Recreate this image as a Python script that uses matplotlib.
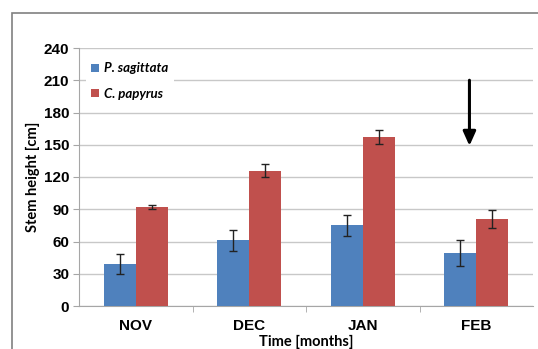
import matplotlib
matplotlib.use("Agg")
import matplotlib.pyplot as plt
from matplotlib.patches import Rectangle
import numpy as np

months = ["NOV", "DEC", "JAN", "FEB"]
sagittata = [39, 61, 75, 49]
sagittata_err = [9.5, 9.5, 10, 12]
papyrus = [92, 126, 157.5, 81]
papyrus_err = [2, 6, 6.5, 8.5]
series_names = ["P. sagittata", "C. papyrus"]
yticks = [0, 30, 60, 90, 120, 150, 180, 210, 240]

W, H = 538, 349
fig = plt.figure(figsize=(W / 100, H / 100), dpi=100)
fig.patch.set_facecolor("white")

# outer chart frame
fig.patches.append(Rectangle((12 / W, -0.05), 1.2, 1 - 13 / H + 0.05,
                             transform=fig.transFigure, fill=False,
                             edgecolor="#808080", linewidth=1.2))

ax = fig.add_axes([79 / W, 1 - 306 / H, (533 - 79) / W, (306 - 48) / H])
x = np.arange(len(months))
bw = 0.28
blue, red = "#4f81bd", "#c0504d"
err_kw = dict(ecolor="#222222", elinewidth=1.0, capsize=2.6, capthick=1.0)
b1 = ax.bar(x - bw / 2, sagittata, bw, color=blue, yerr=sagittata_err,
            error_kw=err_kw, zorder=3, label=series_names[0])
b2 = ax.bar(x + bw / 2, papyrus, bw, color=red, yerr=papyrus_err,
            error_kw=err_kw, zorder=3, label=series_names[1])

ax.set_xlim(-0.5, len(months) - 0.5)
ax.set_ylim(0, 240)
ax.set_yticks(yticks)
ax.yaxis.grid(True, color="#c8c8c8", linewidth=1.0, zorder=0)
ax.set_axisbelow(True)

for s in ["top", "right"]:
    ax.spines[s].set_visible(False)
ax.spines["left"].set_color("#a6a6a6")
ax.spines["bottom"].set_color("#a6a6a6")

ax.set_xticks(x)
ax.set_xticklabels(months, fontsize=11, fontweight="bold",
                   fontfamily="Liberation Sans")
ax.set_xticks(np.arange(0.5, len(months) - 0.5, 1), minor=True)
ax.tick_params(axis="x", which="major", length=0, pad=9)
ax.tick_params(axis="x", which="minor", length=4, color="#a6a6a6")
ax.tick_params(axis="y", length=4, color="#a6a6a6", pad=3)
for lab in ax.get_yticklabels():
    lab.set_fontsize(11)
    lab.set_fontweight("bold")
    lab.set_fontfamily("Liberation Sans")

ax.set_xlabel("Time [months]", fontsize=10.5, fontweight="bold",
              fontfamily="Lato", labelpad=2)
ax.set_ylabel("Stem height [cm]", fontsize=10.5, fontweight="bold",
              fontfamily="Lato", labelpad=3)

leg = ax.legend(loc="upper left", bbox_to_anchor=(0.0, 0.99),
                frameon=True, facecolor="white", edgecolor="none",
                framealpha=1.0, fancybox=False,
                prop=dict(family="Lato", weight="bold", style="italic", size=9.5),
                handlelength=0.6, handleheight=0.6, handletextpad=0.4,
                labelspacing=1.0, borderpad=0.4, borderaxespad=0.5)
leg.set_zorder(5)

# arrow marking the February drop
ax.annotate("", xy=(2.94, 149), xytext=(2.94, 210),
            arrowprops=dict(arrowstyle="-|>,head_width=0.38,head_length=0.85",
                            color="black", lw=2.2, shrinkA=0, shrinkB=0),
            zorder=6)

fig.savefig("out.png", dpi=100, facecolor="white")
